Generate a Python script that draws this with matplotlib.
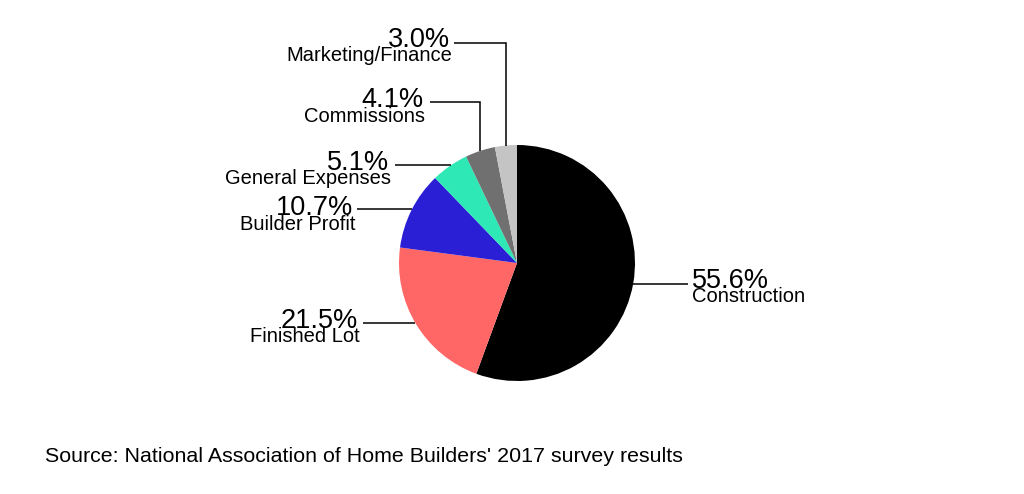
import numpy as np
import matplotlib
matplotlib.use("Agg")
import matplotlib.pyplot as plt

categories = ["Construction", "Finished Lot", "Builder Profit", "General Expenses",
              "Commissions", "Marketing/Finance"]
values = [55.6, 21.5, 10.7, 5.1, 4.1, 3.0]
colors = ["#000000", "#ff6666", "#2b1fd6", "#2ee8b6", "#707070", "#c4c4c4"]
source = "Source: National Association of Home Builders' 2017 survey results"

W, H = 1024, 494
plt.rcParams['font.family'] = ['Liberation Sans', 'DejaVu Sans']
fig = plt.figure(figsize=(W / 100, H / 100), dpi=100)
ax = fig.add_axes([0, 0, 1, 1])


def Y(py):
    return H - py


cx, cy, R = 517, 263, 118
wedges, _ = ax.pie(values, colors=colors, startangle=90, counterclock=False,
                   center=(cx, Y(cy)), radius=R, frame=True,
                   wedgeprops=dict(linewidth=0))
ax.set_xlim(0, W)
ax.set_ylim(0, H)
ax.set_aspect('equal')
ax.axis('off')

# label layout: text x, pct baseline, alignment, leader y, leader outer x, kind
layout = {
    "Construction": dict(tx=692, base=288, ha='left', ly=284, lx=688, kind='h'),
    "Finished Lot": dict(tx=358, base=328, ha='right', ly=323, lx=363, kind='h'),
    "Builder Profit": dict(tx=353, base=215, ha='right', ly=209, lx=357, kind='h'),
    "General Expenses": dict(tx=389, base=170, ha='right', ly=165, lx=395, kind='h'),
    "Commissions": dict(tx=423, base=107, ha='right', ly=102, lx=430, kind='v'),
    "Marketing/Finance": dict(tx=450, base=47, ha='right', ly=43, lx=454, kind='v'),
}

for cat, v, w in zip(categories, values, wedges):
    L = layout[cat]
    pct = f"{v:.1f}%"
    ax.text(L['tx'], Y(L['base']), pct, ha=L['ha'], va='baseline', fontsize=19.5,
            color='black')
    ax.text(L['tx'] + (2 if L['ha'] == 'right' else 0), Y(L['base'] + 14.5), cat,
            ha=L['ha'], va='baseline', fontsize=14.5, color='black')
    ang = np.deg2rad((w.theta1 + w.theta2) / 2)
    if L['kind'] == 'h':
        dy = Y(L['ly']) - Y(cy)
        dx = np.sqrt(max(R ** 2 - dy ** 2, 0))
        ex = cx + dx if L['ha'] == 'left' else cx - dx
        ax.plot([L['lx'], ex], [Y(L['ly'])] * 2, color='black', lw=1.1,
                solid_capstyle='butt')
    else:
        px = cx + R * np.cos(ang)
        py = Y(cy) + np.sqrt(max(R ** 2 - (px - cx) ** 2, 0))
        ax.plot([L['lx'], px, px], [Y(L['ly']), Y(L['ly']), py], color='black',
                lw=1.1, solid_capstyle='butt', solid_joinstyle='miter')

ax.text(45, Y(462), source, ha='left', va='baseline', fontsize=15.4, color='black')

fig.savefig("out.png", dpi=100, facecolor='white')
